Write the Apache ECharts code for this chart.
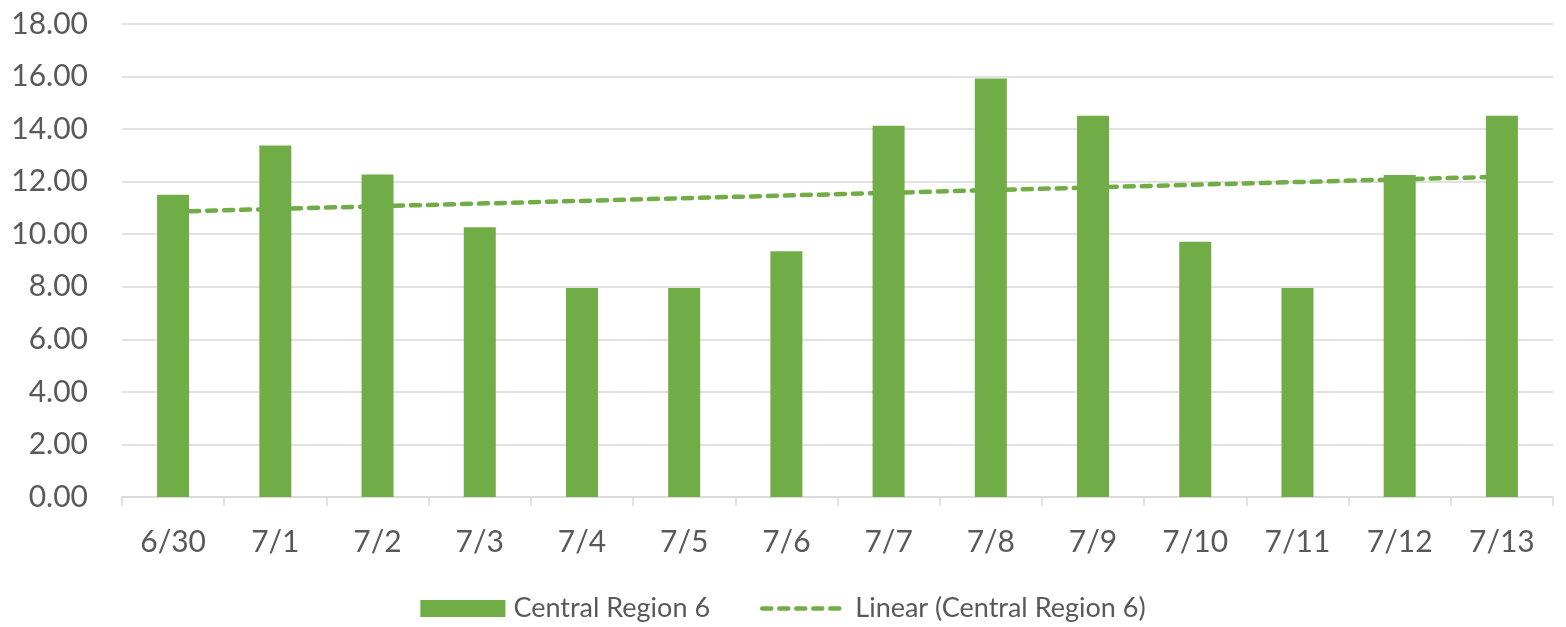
<!DOCTYPE html>
<html>
<head>
<meta charset="utf-8">
<script src="https://cdn.jsdelivr.net/npm/echarts@6/dist/echarts.min.js"></script>
<style>
  html, body { margin: 0; padding: 0; background: #fff; }
  #main { width: 1566px; height: 627px; }
</style>
</head>
<body>
<div id="main"></div>
<script>
// 日期
var categories = ['6/30', '7/1', '7/2', '7/3', '7/4', '7/5', '7/6', '7/7', '7/8', '7/9', '7/10', '7/11', '7/12', '7/13'];
// Central Region 6
var regionValues = [11.5, 13.38, 12.27, 10.27, 7.95, 7.95, 9.35, 14.13, 15.93, 14.51, 9.71, 7.95, 12.25, 14.51];
// trendline, read at first and last point only
var trendValues = [10.86, null, null, null, null, null, null, null, null, null, null, null, null, 12.19];
var yTicks = [0, 2, 4, 6, 8, 10, 12, 14, 16, 18];

var green = '#70AD47';
var textColor = '#595959';
var font = 'Lato, "Open Sans", sans-serif';

var myChart = echarts.init(document.getElementById('main'));

var option = {
  animation: false,
  backgroundColor: '#fff',
  grid: {
    left: 122,
    right: 13,
    top: 24,
    bottom: 130
  },
  legend: {
    top: 590,
    left: 'center',
    itemGap: 50,
    itemWidth: 85,
    itemHeight: 17,
    textStyle: { color: textColor, fontSize: 27, fontFamily: font, padding: [0, 0, 0, 3] },
    data: [
      { name: 'Central Region 6', icon: 'rect' },
      {
        name: 'Linear (Central Region 6)',
        itemStyle: { opacity: 0 },
        lineStyle: { color: green, width: 4.5, type: [9, 8], cap: 'round' }
      }
    ]
  },
  xAxis: {
    type: 'category',
    data: categories,
    axisLine: { lineStyle: { color: '#d9d9d9', width: 1.5 } },
    axisTick: { show: true, length: 9, lineStyle: { color: '#d9d9d9', width: 1.5 } },
    axisLabel: { color: textColor, fontSize: 30, fontFamily: font, margin: 30 }
  },
  yAxis: {
    type: 'value',
    min: yTicks[0],
    max: yTicks[yTicks.length - 1],
    interval: 2,
    axisLine: { show: false },
    axisTick: { show: false },
    splitLine: { lineStyle: { color: '#d9d9d9', width: 1.5 } },
    axisLabel: {
      color: textColor,
      fontSize: 30,
      fontFamily: font,
      margin: 34,
      formatter: function (v) { return v.toFixed(2); }
    }
  },
  series: [
    {
      name: 'Central Region 6',
      type: 'bar',
      data: regionValues,
      barWidth: 32,
      z: 3,
      itemStyle: { color: green }
    },
    {
      name: 'Linear (Central Region 6)',
      type: 'line',
      data: trendValues,
      connectNulls: true,
      symbol: 'none',
      z: 2,
      itemStyle: { color: green },
      lineStyle: { color: green, width: 4.5, type: [9, 8], cap: 'round' }
    }
  ]
};

myChart.setOption(option);
</script>
</body>
</html>
